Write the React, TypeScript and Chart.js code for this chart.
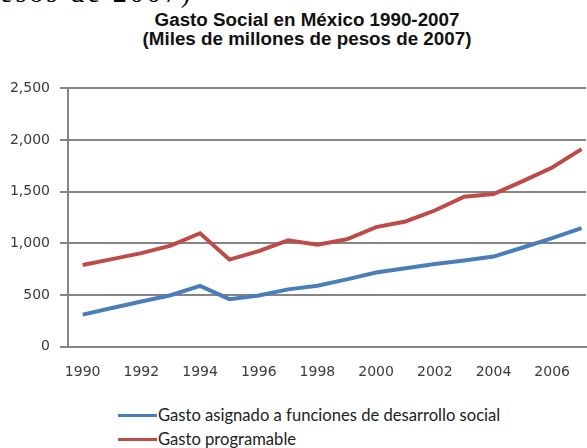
import { useEffect, useRef } from "react";
import { Chart, registerables } from "chart.js";

Chart.register(...registerables);

const years = [1990, 1991, 1992, 1993, 1994, 1995, 1996, 1997, 1998, 1999, 2000, 2001, 2002, 2003, 2004, 2005, 2006, 2007];
const gastoSocial = [310, 375, 437, 498, 588, 460, 495, 555, 590, 652, 718, 760, 800, 835, 872, 960, 1050, 1148];
const gastoProgramable = [790, 848, 906, 978, 1098, 843, 925, 1030, 988, 1040, 1158, 1212, 1318, 1452, 1478, 1603, 1735, 1912];
const xTickLabels = [1990, 1992, 1994, 1996, 1998, 2000, 2002, 2004, 2006];
const yTicks = [0, 500, 1000, 1500, 2000, 2500];
const seriesLabels = ["Gasto asignado a funciones de desarrollo social", "Gasto programable"];
const seriesColors = ["#4a7ebb", "#be4b48"];
const titleLines = ["Gasto Social en México 1990-2007", "(Miles de millones de pesos de 2007)"];
const clippedCaption = "esos de 2007)";

export default function App() {
  const canvasRef = useRef<HTMLCanvasElement | null>(null);

  useEffect(() => {
    if (!canvasRef.current) return;
    const series = [gastoSocial, gastoProgramable];
    const chart = new Chart(canvasRef.current, {
      type: "line",
      data: {
        datasets: series.map((vals, i) => ({
          label: seriesLabels[i],
          data: vals.map((v, j) => ({ x: years[j], y: v })),
          borderColor: seriesColors[i],
          backgroundColor: seriesColors[i],
          borderWidth: 4,
          pointRadius: 0,
          tension: 0,
          fill: false,
        })),
      },
      options: {
        animation: false,
        responsive: false,
        devicePixelRatio: 1,
        layout: { padding: { top: 17.3, left: 0, right: 0, bottom: 0 } },
        plugins: {
          legend: { display: false },
          title: { display: false },
          tooltip: { enabled: false },
        },
        scales: {
          x: {
            type: "linear",
            min: 1989.5,
            max: 2007.153,
            afterBuildTicks: (s: any) => {
              s.ticks = xTickLabels.map((v) => ({ value: v }));
            },
            afterFit: (s: any) => {
              s.height = 33.3;
            },
            ticks: {
              autoSkip: false,
              maxRotation: 0,
              padding: 17,
              color: "#3a3a3a",
              font: { family: "DejaVu Sans", size: 14 },
              callback: (v: any) => String(v),
            },
            grid: { display: false, drawTicks: false },
            border: { display: true, color: "#858585", width: 2 },
          },
          y: {
            min: 0,
            max: 2500,
            afterBuildTicks: (s: any) => {
              s.ticks = yTicks.map((v) => ({ value: v }));
            },
            afterFit: (s: any) => {
              s.width = 68;
            },
            ticks: {
              padding: 10,
              color: "#3a3a3a",
              font: { family: "DejaVu Sans", size: 14 },
              callback: (v: any) => Number(v).toLocaleString("en-US"),
            },
            grid: { color: "#858585", lineWidth: 2, tickLength: 8 },
            border: { display: true, color: "#858585", width: 2 },
          },
        },
      },
    });
    return () => chart.destroy();
  }, []);

  return (
    <div
      style={{
        position: "fixed",
        left: 0,
        top: 0,
        width: 587,
        height: 448,
        overflow: "hidden",
        background: "#ffffff",
      }}
    >
      <div
        style={{
          position: "absolute",
          left: 0,
          top: -21,
          fontFamily: "'Liberation Serif', serif",
          fontSize: 28,
          lineHeight: "28px",
          letterSpacing: 3,
          whiteSpace: "nowrap",
          color: "#000",
        }}
      >
        {clippedCaption}
      </div>
      <div
        style={{
          position: "absolute",
          left: 0,
          top: 10,
          width: 614,
          textAlign: "center",
          fontFamily: "'Liberation Sans', Arial, sans-serif",
          fontWeight: "bold",
          fontSize: 18.8,
          lineHeight: "19px",
          color: "#111",
        }}
      >
        {titleLines.map((t, i) => (
          <div key={i}>{t}</div>
        ))}
      </div>
      <canvas
        ref={canvasRef}
        width={587}
        height={310}
        style={{ position: "absolute", left: 0, top: 70, width: 587, height: 310 }}
      />
      {seriesLabels.map((lab, i) => (
        <div
          key={i}
          style={{
            position: "absolute",
            left: 118,
            top: 415 + i * 24 - 11,
            height: 22,
            display: "flex",
            alignItems: "center",
            whiteSpace: "nowrap",
          }}
        >
          <div style={{ width: 39, height: 3, background: seriesColors[i] }} />
          <span
            style={{
              marginLeft: 1,
              fontFamily: "Lato, sans-serif",
              fontSize: 16.6,
              color: "#222",
            }}
          >
            {lab}
          </span>
        </div>
      ))}
    </div>
  );
}
